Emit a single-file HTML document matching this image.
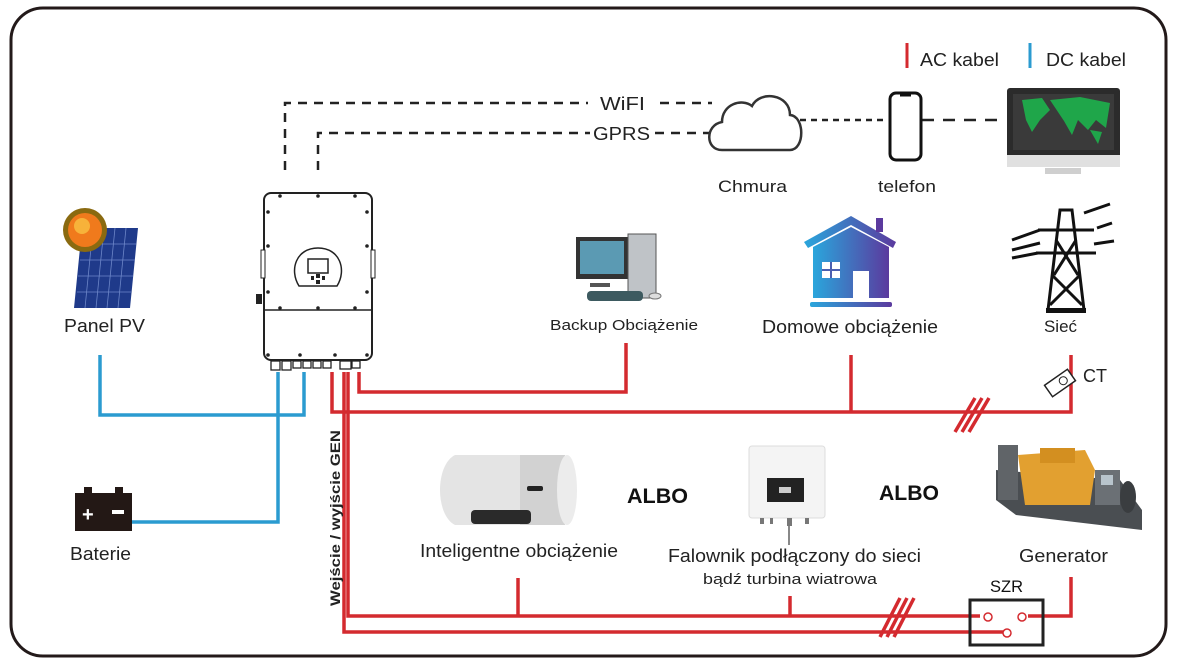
<!DOCTYPE html>
<html><head><meta charset="utf-8"><style>
html,body{margin:0;padding:0;background:#fff}
svg{display:block}
text{font-family:"Liberation Sans",Arial,sans-serif;fill:#222}
</style></head><body>
<svg width="1179" height="667" viewBox="0 0 1179 667" xmlns="http://www.w3.org/2000/svg">
<rect x="11" y="8" width="1155" height="648" rx="32" fill="#fff" stroke="#231a1a" stroke-width="3"/>

<!-- legend -->
<line x1="907" y1="43" x2="907" y2="68" stroke="#d42a2f" stroke-width="3"/>
<text x="920" y="66" font-size="18" textLength="79" lengthAdjust="spacingAndGlyphs">AC kabel</text>
<line x1="1030" y1="43" x2="1030" y2="68" stroke="#2b9bd0" stroke-width="3"/>
<text x="1046" y="66" font-size="18" textLength="80" lengthAdjust="spacingAndGlyphs">DC kabel</text>

<!-- dashed comm lines -->
<g stroke="#222" stroke-width="2.5" stroke-dasharray="9,7" fill="none">
<polyline points="285,170 285,103 588,103"/>
<line x1="660" y1="103" x2="712" y2="103"/>
<polyline points="318,170 318,133 590,133"/>
<line x1="655" y1="133" x2="712" y2="133"/>
<line x1="800" y1="120" x2="888" y2="120" stroke-dasharray="6,5"/>
<line x1="922" y1="120" x2="1005" y2="120" stroke-dasharray="12,9"/>
</g>
<text x="600" y="110" font-size="18" textLength="45" lengthAdjust="spacingAndGlyphs">WiFI</text>
<text x="593" y="140" font-size="18" textLength="57" lengthAdjust="spacingAndGlyphs">GPRS</text>

<!-- cloud -->
<path d="M722,150 C705,150 705,125 722,122 C722,104 742,98 752,106 C760,90 790,94 790,115 C805,116 805,150 790,150 Z" fill="#fff" stroke="#333" stroke-width="2.5"/>
<text x="718" y="192" font-size="17" textLength="69" lengthAdjust="spacingAndGlyphs">Chmura</text>
<!-- phone -->
<rect x="890" y="93" width="31" height="67" rx="6" fill="#fff" stroke="#111" stroke-width="3"/>
<line x1="900" y1="95" x2="911" y2="95" stroke="#111" stroke-width="3"/>
<text x="878" y="192" font-size="17" textLength="58" lengthAdjust="spacingAndGlyphs">telefon</text>
<!-- monitor -->
<rect x="1007" y="88" width="113" height="70" rx="3" fill="#2b2b2b"/>
<rect x="1013" y="94" width="101" height="56" fill="#3a3a3a"/>
<path d="M1022,100 l20,-2 l8,12 l-10,10 l-8,12 l-6,-12 z M1050,100 l30,-3 l30,6 l-4,25 l-10,-8 l-8,10 l-10,-10 l-6,15 l-8,-14 z M1090,130 l12,2 l-4,12 z" fill="#1fa64a"/>
<rect x="1007" y="155" width="113" height="12" fill="#e0e0e0"/>
<rect x="1045" y="168" width="36" height="6" fill="#cfcfcf"/>

<!-- PV panel -->
<polygon points="82,228 138,228 130,308 74,308" fill="#1f3a8a"/>
<g stroke="#6d86c8" stroke-width="0.8">
<line x1="81" y1="244" x2="136" y2="244"/><line x1="80" y1="260" x2="135" y2="260"/><line x1="78" y1="276" x2="133" y2="276"/><line x1="77" y1="292" x2="131" y2="292"/>
<line x1="93" y1="228" x2="85" y2="308"/><line x1="104" y1="228" x2="96" y2="308"/><line x1="115" y1="228" x2="107" y2="308"/><line x1="126" y1="228" x2="118" y2="308"/>
</g>
<circle cx="85" cy="230" r="22" fill="#8a6a10"/>
<circle cx="85" cy="230" r="17" fill="#f07a1c"/>
<circle cx="82" cy="226" r="8" fill="#f7b23a"/>
<text x="64" y="332" font-size="18" textLength="81" lengthAdjust="spacingAndGlyphs">Panel PV</text>

<!-- battery -->
<rect x="75" y="493" width="57" height="38" fill="#231815"/>
<rect x="84" y="487" width="8" height="7" fill="#231815"/><rect x="115" y="487" width="8" height="7" fill="#231815"/>
<text x="82" y="521" font-size="20" font-weight="bold" style="fill:#fff">+</text>
<rect x="112" y="510" width="12" height="4" fill="#fff"/>
<text x="70" y="560" font-size="18" textLength="61" lengthAdjust="spacingAndGlyphs">Baterie</text>

<!-- inverter -->
<rect x="264" y="193" width="108" height="167" rx="7" fill="#fff" stroke="#222" stroke-width="2"/>
<line x1="264" y1="310" x2="372" y2="310" stroke="#222" stroke-width="1.5"/>
<rect x="261" y="250" width="4" height="28" fill="#fff" stroke="#222"/><rect x="371" y="250" width="4" height="28" fill="#fff" stroke="#222"/>
<rect x="256" y="294" width="6" height="10" fill="#222"/>
<path d="M299,286 C289,270 296,248 318,248 C340,248 347,270 337,286 Z" fill="#fff" stroke="#222" stroke-width="1.5"/>
<rect x="308" y="259" width="20" height="14" fill="#fff" stroke="#222" stroke-width="1.5"/>
<rect x="311" y="276" width="3" height="4" fill="#222"/><rect x="316" y="274" width="4" height="4" fill="#222"/><rect x="322" y="276" width="3" height="4" fill="#222"/><rect x="316" y="280" width="4" height="4" fill="#222"/>
<g fill="#222">
<circle cx="280" cy="196" r="1.8"/><circle cx="318" cy="196" r="1.8"/><circle cx="355" cy="196" r="1.8"/>
<circle cx="268" cy="212" r="1.8"/><circle cx="367" cy="212" r="1.8"/><circle cx="268" cy="246" r="1.8"/><circle cx="367" cy="246" r="1.8"/>
<circle cx="268" cy="292" r="1.8"/><circle cx="367" cy="292" r="1.8"/><circle cx="280" cy="308" r="1.8"/><circle cx="318" cy="308" r="1.8"/><circle cx="355" cy="308" r="1.8"/>
<circle cx="268" cy="355" r="1.8"/><circle cx="300" cy="355" r="1.8"/><circle cx="335" cy="355" r="1.8"/><circle cx="367" cy="355" r="1.8"/>
</g>
<g fill="#fff" stroke="#222" stroke-width="1.3">
<rect x="271" y="361" width="9" height="9"/><rect x="282" y="361" width="9" height="9"/><rect x="293" y="361" width="8" height="7"/><rect x="303" y="361" width="8" height="7"/><rect x="313" y="361" width="8" height="7"/><rect x="323" y="361" width="8" height="7"/><rect x="340" y="361" width="11" height="8"/><rect x="352" y="361" width="8" height="7"/>
</g>

<!-- backup PC -->
<rect x="576" y="237" width="52" height="42" fill="#333"/>
<rect x="580" y="241" width="44" height="33" fill="#5b9ab3"/>
<rect x="628" y="234" width="28" height="64" fill="#bfc3c7" stroke="#555"/>
<rect x="590" y="283" width="20" height="4" fill="#555"/>
<rect x="587" y="291" width="56" height="10" rx="4" fill="#3d5a60"/>
<ellipse cx="655" cy="296" rx="6" ry="3" fill="#ddd" stroke="#777"/>
<text x="550" y="330" font-size="15" textLength="148" lengthAdjust="spacingAndGlyphs">Backup Obciążenie</text>

<!-- house -->
<defs><linearGradient id="hg" x1="0" x2="1"><stop offset="0" stop-color="#2aa6dc"/><stop offset="1" stop-color="#5b3a9e"/></linearGradient></defs>
<polygon points="804,242 851,216 896,242 893,248 851,225 808,248" fill="url(#hg)"/>
<rect x="876" y="218" width="7" height="14" fill="#5b3a9e"/>
<polygon points="813,247 851,227 889,247 889,298 813,298" fill="url(#hg)"/>
<rect x="822" y="262" width="18" height="16" fill="#fff"/><line x1="831" y1="262" x2="831" y2="278" stroke="#4b5fb0" stroke-width="2"/><line x1="822" y1="270" x2="840" y2="270" stroke="#4b5fb0" stroke-width="2"/>
<rect x="853" y="271" width="16" height="27" fill="#fff"/>
<rect x="810" y="302" width="82" height="5" rx="2" fill="url(#hg)"/>
<text x="762" y="333" font-size="18" textLength="176" lengthAdjust="spacingAndGlyphs">Domowe obciążenie</text>

<!-- tower -->
<g stroke="#111" stroke-width="3" fill="none">
<polyline points="1048,310 1060,210 1072,210 1084,310"/>
<line x1="1038" y1="230" x2="1094" y2="230"/><line x1="1036" y1="253" x2="1096" y2="253"/>
<line x1="1056" y1="240" x2="1078" y2="275"/><line x1="1076" y1="240" x2="1054" y2="275"/>
<line x1="1052" y1="275" x2="1082" y2="305"/><line x1="1080" y1="275" x2="1050" y2="305"/>
<line x1="1012" y1="240" x2="1040" y2="230"/><line x1="1012" y1="250" x2="1040" y2="243"/><line x1="1012" y1="258" x2="1038" y2="253"/>
<line x1="1084" y1="213" x2="1110" y2="204"/><line x1="1097" y1="228" x2="1112" y2="223"/><line x1="1094" y1="244" x2="1114" y2="241"/>
</g>
<rect x="1046" y="308" width="40" height="5" fill="#111"/>
<text x="1044" y="332" font-size="17" textLength="33" lengthAdjust="spacingAndGlyphs">Sieć</text>

<!-- AC lines -->
<g stroke="#d42a2f" stroke-width="3.5" fill="none">
<polyline points="359,372 359,392 626,392 626,343"/>
<polyline points="332,372 332,412 1071,412 1071,355"/>
<line x1="851" y1="355" x2="851" y2="412"/>
<polyline points="348,372 348,616 980,616"/>
<polyline points="344,372 344,632 1006,632"/>
<line x1="518" y1="578" x2="518" y2="616"/>
<line x1="790" y1="596" x2="790" y2="616"/>
<polyline points="1071,577 1071,616 1028,616"/>
<line x1="955" y1="432" x2="975" y2="398"/><line x1="962" y1="432" x2="982" y2="398"/><line x1="969" y1="432" x2="989" y2="398"/>
<line x1="880" y1="637" x2="900" y2="598"/><line x1="887" y1="637" x2="907" y2="598"/><line x1="894" y1="637" x2="914" y2="598"/>
</g>
<!-- DC lines -->
<g stroke="#2b9bd0" stroke-width="3.5" fill="none">
<polyline points="100,355 100,415 304,415 304,372"/>
<polyline points="132,522 278,522 278,372"/>
</g>

<!-- CT -->
<g transform="translate(1060,383) rotate(-35)">
<rect x="-14" y="-7" width="28" height="14" fill="#fff" stroke="#222" stroke-width="1.5"/>
<circle cx="4" cy="0" r="4" fill="none" stroke="#222"/>
</g>
<text x="1083" y="382" font-size="18" textLength="24" lengthAdjust="spacingAndGlyphs">CT</text>

<text transform="translate(340,606) rotate(-90)" font-size="14" font-weight="bold" textLength="176" lengthAdjust="spacingAndGlyphs">Wejście / wyjście GEN</text>

<!-- heater -->
<path d="M455,455 L560,455 C580,470 580,515 560,525 L455,525 C435,515 435,465 455,455 Z" fill="#e4e4e4"/>
<rect x="520" y="455" width="45" height="70" fill="#d2d2d2"/>
<ellipse cx="567" cy="490" rx="10" ry="35" fill="#ececec"/>
<rect x="527" y="486" width="16" height="5" rx="2" fill="#222"/>
<rect x="471" y="510" width="60" height="14" rx="4" fill="#2a2a2a"/>
<text x="420" y="557" font-size="18" textLength="198" lengthAdjust="spacingAndGlyphs">Inteligentne obciążenie</text>
<text x="627" y="503" font-size="21" font-weight="bold" style="fill:#111" textLength="61" lengthAdjust="spacingAndGlyphs">ALBO</text>

<!-- grid inverter -->
<rect x="749" y="446" width="76" height="72" rx="3" fill="#f4f4f4" stroke="#ddd"/>
<rect x="767" y="478" width="37" height="24" fill="#222"/>
<rect x="779" y="487" width="12" height="6" fill="#ccc"/>
<rect x="760" y="518" width="4" height="6" fill="#777"/><rect x="770" y="518" width="3" height="6" fill="#777"/><rect x="787" y="518" width="5" height="8" fill="#777"/><rect x="805" y="518" width="4" height="6" fill="#777"/>
<line x1="789" y1="526" x2="789" y2="545" stroke="#888" stroke-width="2"/>
<text x="668" y="562" font-size="18" textLength="253" lengthAdjust="spacingAndGlyphs">Falownik podłączony do sieci</text>
<text x="703" y="584" font-size="15" textLength="174" lengthAdjust="spacingAndGlyphs">bądź turbina wiatrowa</text>
<text x="879" y="500" font-size="21" font-weight="bold" style="fill:#111" textLength="60" lengthAdjust="spacingAndGlyphs">ALBO</text>

<!-- generator -->
<polygon points="996,470 1120,480 1142,510 1142,530 1016,515 996,500" fill="#4a4e52"/>
<rect x="998" y="445" width="20" height="55" fill="#606468"/>
<path d="M1018,455 L1085,450 L1095,470 L1090,505 L1025,505 Z" fill="#e2a030"/>
<rect x="1040" y="448" width="35" height="15" fill="#d38f20"/>
<rect x="1095" y="470" width="25" height="35" fill="#6b7075"/>
<rect x="1101" y="475" width="12" height="10" fill="#b8c4cc"/>
<ellipse cx="1128" cy="497" rx="8" ry="16" fill="#3a3d40"/>
<text x="1019" y="562" font-size="18" textLength="89" lengthAdjust="spacingAndGlyphs">Generator</text>

<!-- SZR -->
<text x="990" y="592" font-size="17" style="fill:#111" textLength="33" lengthAdjust="spacingAndGlyphs">SZR</text>
<rect x="970" y="600" width="73" height="45" fill="none" stroke="#222" stroke-width="3"/>
<circle cx="988" cy="617" r="4" fill="#fff" stroke="#d42a2f" stroke-width="1.5"/>
<circle cx="1022" cy="617" r="4" fill="#fff" stroke="#d42a2f" stroke-width="1.5"/>
<circle cx="1007" cy="633" r="4" fill="#fff" stroke="#d42a2f" stroke-width="1.5"/>
</svg>
</body></html>
